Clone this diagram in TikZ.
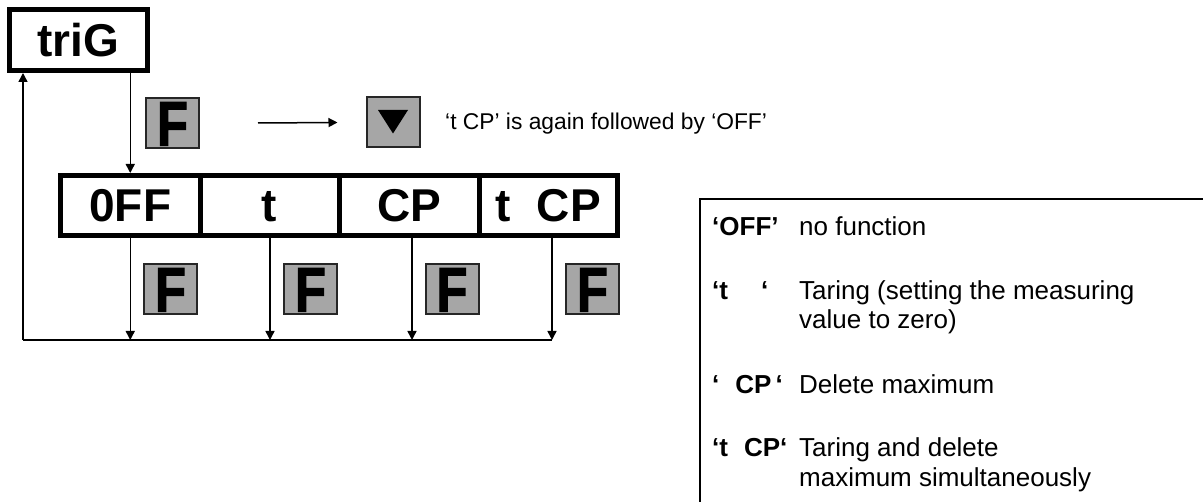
\documentclass[tikz,border=0pt]{standalone}
\usepackage{fontspec}
\setmainfont{Liberation Sans}
\newfontfamily\keyfont{Liberation Sans}[BoldFeatures={FakeBold=2,FakeStretch=0.8}]
\usetikzlibrary{arrows.meta}
\definecolor{keygray}{RGB}{166,166,166}
\tikzset{
  conn/.style={line width=1.5pt},
  arr/.style={conn,-{Triangle[length=9pt,width=9pt]}},
  keybox/.style={draw=black!85, line width=2pt, fill=keygray, minimum width=53pt,
    minimum height=50pt, inner sep=0pt,
    font=\keyfont\bfseries\fontsize{63}{63}\selectfont, text height=45pt, text depth=0pt},
  dispbox/.style={draw, line width=5pt, inner sep=0pt,
    font=\bfseries\fontsize{46}{46}\selectfont, text height=33pt, text depth=0pt},
  lab/.style={anchor=base west, inner sep=0pt, font=\bfseries\fontsize{26}{30}\selectfont},
  desc/.style={anchor=base west, inner sep=0pt, font=\fontsize{26}{30}\selectfont},
}
\begin{document}
\begin{tikzpicture}[x=1pt,y=-1pt]
\useasboundingbox (0,0) rectangle (1203,502);
% display boxes
\node[dispbox, minimum width=138pt, minimum height=61pt] (triG) at (78.5,40) {triG};
\node[dispbox, minimum width=139.5pt, minimum height=60pt] (OFF) at (130.25,205.5) {0FF};
\node[dispbox, minimum width=139pt, minimum height=60pt] (T) at (269.5,205.5) {t};
\node[dispbox, minimum width=140pt, minimum height=60pt] (CP) at (409,205.5) {CP};
\node[dispbox, minimum width=138.5pt, minimum height=60pt] (TCP) at (548.25,205.5) {t\hspace{26pt}CP};
% keys
\node[keybox] (Ftop) at (172.5,123) {F};
\node[keybox] (down) at (393,122.5) {};
\fill (down.center) ++(-15,-12.5) -- ++(30,0) -- ++(-15,23.5) -- cycle;
\node[keybox] (F1) at (170.5,289) {F};
\node[keybox] (F2) at (310.5,289) {F};
\node[keybox] (F3) at (452,289) {F};
\node[keybox] (F4) at (592.5,289) {F};
% connectors
\coordinate (corner) at (23,340);
\coordinate (b1) at (130.25,340);
\coordinate (b2) at (270,340);
\coordinate (b3) at (412,340);
\coordinate (b4) at (552,340);
\draw[conn] (corner) -- (b4);
\draw[arr] (corner) -- (corner |- triG.south);
\draw[arr] (triG.south -| OFF.north) -- (OFF.north);
\draw[arr] (OFF.south) -- (b1);
\draw[arr] (T.south -| b2) -- (b2);
\draw[arr] (CP.south -| b3) -- (b3);
\draw[arr] (TCP.south -| b4) -- (b4);
\draw[arr] ([xshift=58pt]Ftop.east) -- ([xshift=-28pt]down.west);
\node[anchor=base west, inner sep=0pt, font=\fontsize{22.8}{27}\selectfont] (note) at (445,130) {‘t CP’ is again followed by ‘OFF’};
% legend
\draw[line width=2.5pt] (700,502) -- (700,199) -- (1203,199);
\node[lab] (l1) at (712,236) {‘OFF’};
\node[lab] (l2) at (712,300) {‘t\hspace{33pt}‘};
\node[lab] (l3) at (712,394) {‘\hspace{16pt}CP\hspace{4pt}‘};
\node[lab] (l4) at (712,457) {‘t\hspace{16pt}CP‘};
\node[desc] (d1) at (799,236) {no function};
\node[desc] (d2a) at (799,300) {Taring (setting the measuring};
\node[desc] (d2b) at (799,329) {value to zero)};
\node[desc] (d3) at (799,394) {Delete maximum};
\node[desc] (d4a) at (799,457) {Taring and delete};
\node[desc] (d4b) at (799,487) {maximum simultaneously};
\end{tikzpicture}
\end{document}
